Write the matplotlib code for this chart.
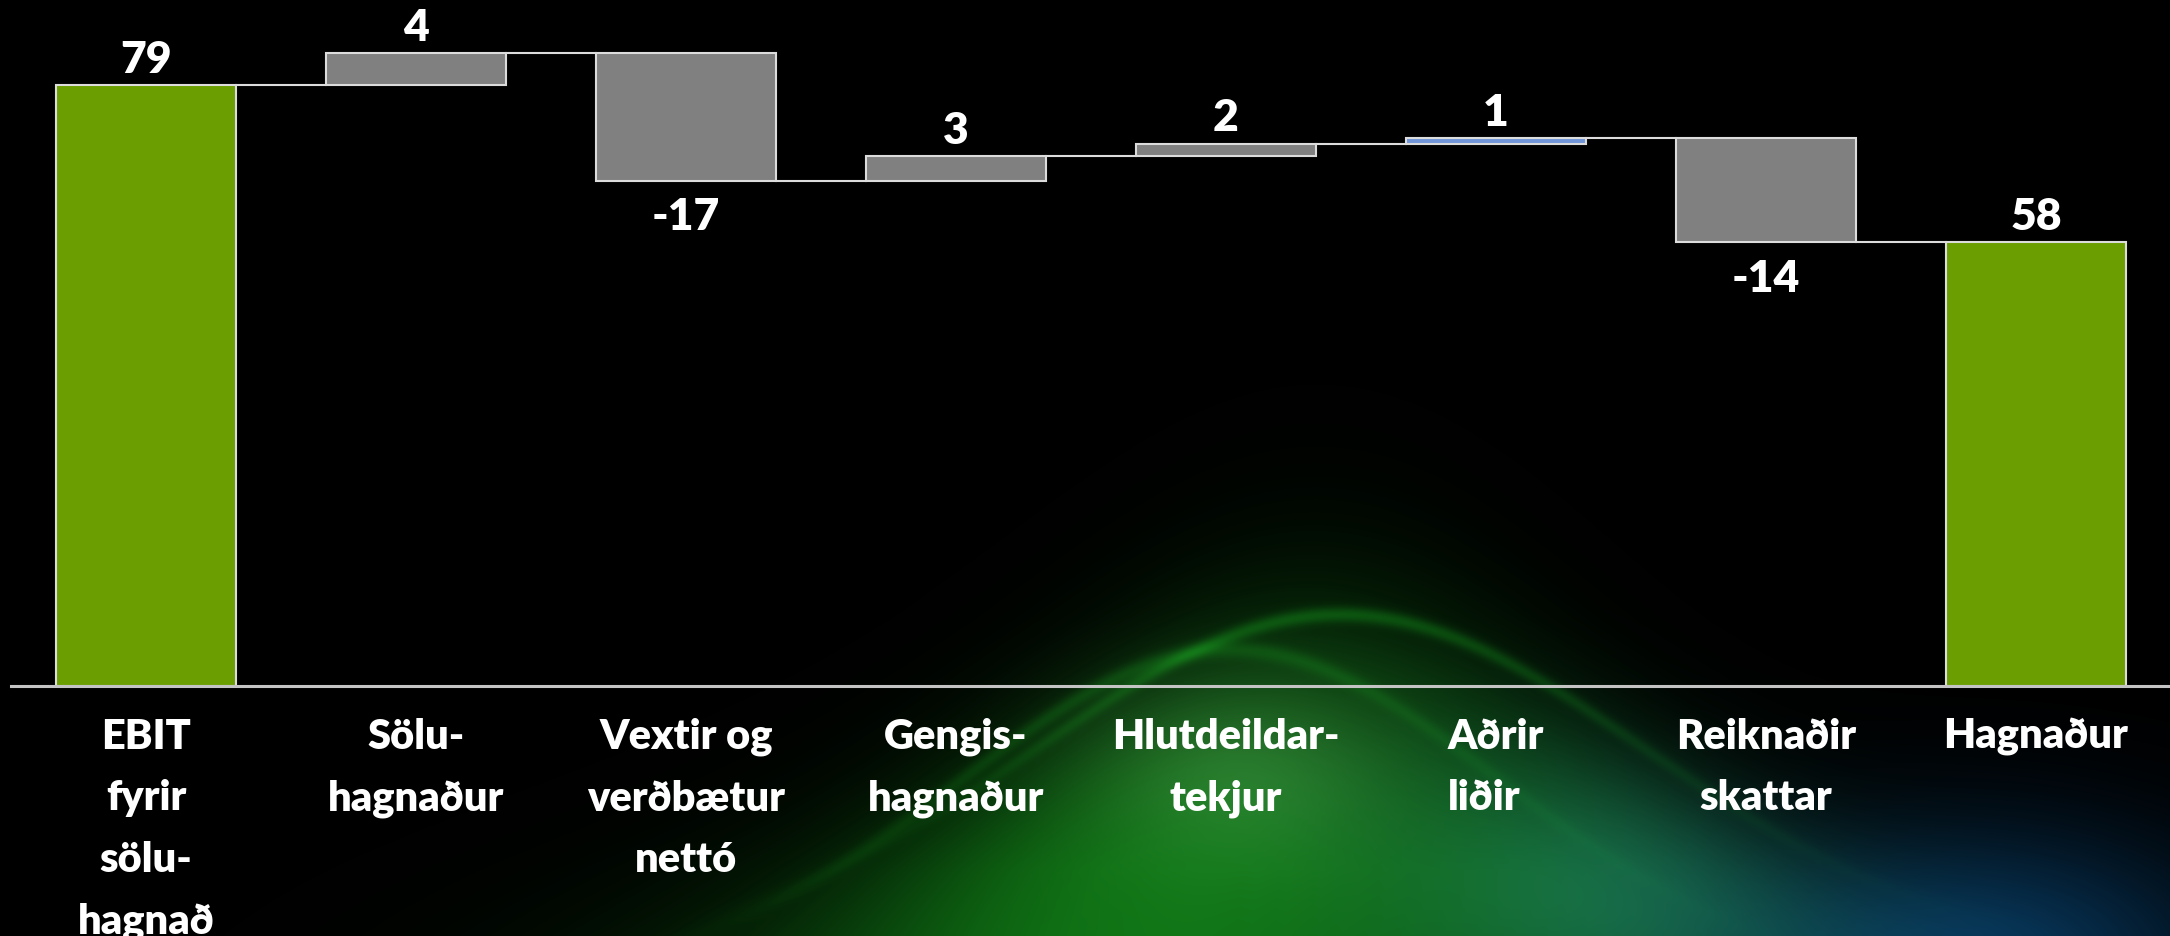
import numpy as np
import matplotlib.pyplot as plt

# waterfall data
categories = ['EBIT\nfyrir\nsölu-\nhagnað', 'Sölu-\nhagnaður', 'Vextir og\nverðbætur\nnettó',
              'Gengis-\nhagnaður', 'Hlutdeildar-\ntekjur', 'Aðrir\nliðir',
              'Reiknaðir\nskattar', 'Hagnaður']
start_total = 79.0
changes = [4.2, -16.8, 3.2, 1.7, 0.7, -13.7]
label_align = ['center', 'center', 'center', 'center', 'center', 'left', 'center', 'center']

GREEN = '#6b9e00'
GRAY = '#808080'
BLUE = '#7095d8'
EDGE = '#dcdcdc'
FONT = ['Lato', 'DejaVu Sans']
WEIGHT = 'heavy'

W, H = 2170, 937
fig = plt.figure(figsize=(W / 100, H / 100), dpi=100, facecolor='black')

# background glow (decoration only)
bg = fig.add_axes([0, 0, 1, 1], zorder=-10)
xx, yy = np.meshgrid(np.arange(W), np.arange(H))
yc = 615 + 340 * (1 - np.exp(-((xx - 1340) / 430) ** 2))
inside = 1 / (1 + np.exp(-(yy - yc) / 55))
green = 1.05 * inside * np.exp(-((xx - 1150) / 470) ** 2) * (0.65 + 0.35 * np.clip((yy - 620) / 250, 0, 1))
green += 0.45 * np.exp(-((yy - yc) / 8) ** 2) * np.exp(-((xx - 1340) / 330) ** 2)
yc2 = 650 + 330 * (1 - np.exp(-((xx - 1230) / 380) ** 2))
green += 0.3 * np.exp(-((yy - yc2) / 9) ** 2) * np.exp(-((xx - 1150) / 330) ** 2)
haze = 0.35 * np.exp(-((xx - 1240) / 150) ** 2 - ((yy - 770) / 90) ** 2)
teal = 0.85 * np.exp(-((xx - 1640) / 230) ** 2 - ((yy - 880) / 160) ** 2) * inside
blue = 0.9 * np.exp(-((xx - 1980) / 240) ** 2 - ((yy - 960) / 130) ** 2)
img = np.zeros((H, W, 3))
img += green[..., None] * np.array([0.06, 0.44, 0.08])
img += haze[..., None] * np.array([0.3, 0.35, 0.3])
img += teal[..., None] * np.array([0.08, 0.3, 0.28])
img += blue[..., None] * np.array([0.03, 0.22, 0.38])
bg.imshow(np.clip(img, 0, 1), aspect='auto', extent=[0, 1, 0, 1], interpolation='bilinear')
bg.axis('off')

ax = fig.add_axes([11 / W, 250 / H, 2160 / W, 687 / H])
ax.set_facecolor('none')

end_total = start_total + sum(changes)
n = len(categories)
x = np.arange(n)
bw = 0.667

bottoms, heights, colors = [0], [start_total], [GREEN]
level = start_total
levels = [level]
for c in changes:
    if c >= 0:
        bottoms.append(level)
    else:
        bottoms.append(level + c)
    heights.append(abs(c))
    colors.append(BLUE if categories[len(colors)].startswith('Aðrir') else GRAY)
    level += c
    levels.append(level)
bottoms.append(0)
heights.append(end_total)
colors.append(GREEN)

ax.bar(x, heights, bottom=bottoms, width=bw, color=colors, edgecolor=EDGE, linewidth=1.5, zorder=3)

# connector lines
for i in range(n - 1):
    ax.plot([x[i] + bw / 2, x[i + 1] - bw / 2], [levels[i], levels[i]], color=EDGE, lw=1.5, zorder=2)

# value labels
vals = [start_total] + changes + [end_total]
for i, v in enumerate(vals):
    txt = '%d' % round(v)
    if v >= 0:
        ax.annotate(txt, (x[i], bottoms[i] + heights[i]), xytext=(0, 9.5), textcoords='offset points',
                    ha='center', va='baseline', color='white', fontsize=32, fontweight=WEIGHT, family=FONT)
    else:
        ax.annotate(txt, (x[i], bottoms[i]), xytext=(0, -11), textcoords='offset points',
                    ha='center', va='top', color='white', fontsize=32, fontweight=WEIGHT, family=FONT)

ax.set_xlim(-0.5, n - 0.5)
ax.set_ylim(0, 687 / 7.608)
ax.set_yticks([])
ax.set_xticks(x)
ax.set_xticklabels(categories, color='white', fontsize=30, fontweight=WEIGHT, family=FONT)
for lab, al in zip(ax.get_xticklabels(), label_align):
    lab.set_linespacing(1.76)
    lab.set_multialignment(al)
ax.tick_params(axis='x', length=0, pad=22)
for s in ['top', 'left', 'right']:
    ax.spines[s].set_visible(False)
ax.spines['bottom'].set_color('#c4c4c4')
ax.spines['bottom'].set_linewidth(2.2)
ax.spines['bottom'].set_zorder(4)

fig.savefig('out.png', dpi=100, facecolor='black')
